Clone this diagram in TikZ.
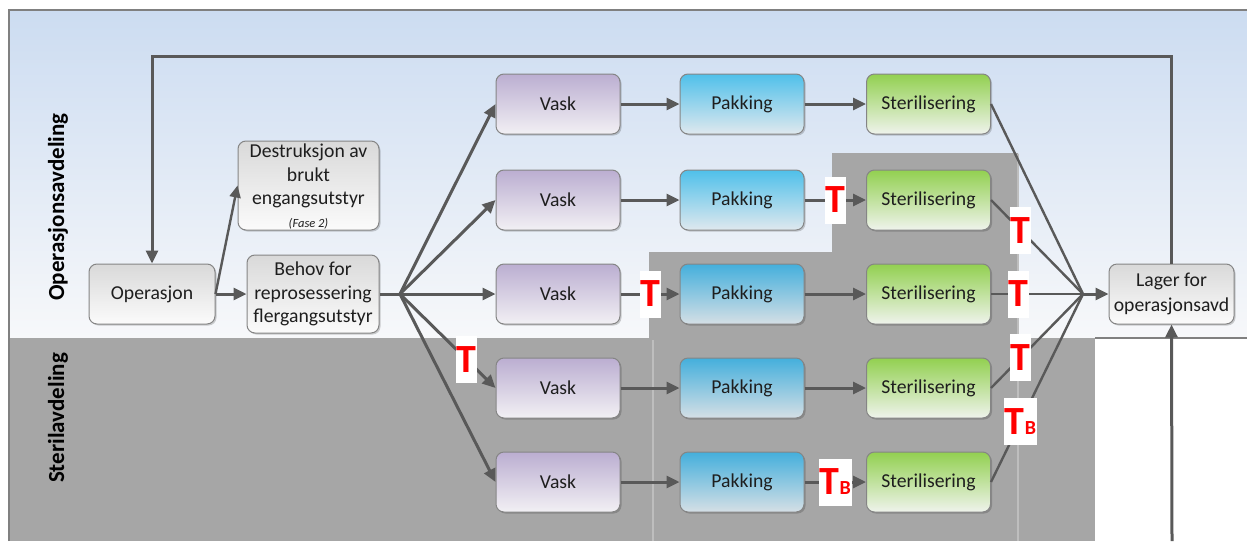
\documentclass[tikz,border=0pt]{standalone}
\usepackage{fontspec}
\setmainfont{Carlito}
\usetikzlibrary{arrows.meta,shadows,calc}

\definecolor{lineclr}{HTML}{595959}
\definecolor{laneTop}{HTML}{CCDCF1}
\definecolor{laneBot}{HTML}{F7F8FA}
\definecolor{laneGray}{HTML}{A6A6A6}
\definecolor{dividerclr}{HTML}{BEBEBE}
\definecolor{frameclr}{HTML}{808080}
\definecolor{boxborder}{HTML}{858585}
\definecolor{boxtext}{HTML}{1E1E1E}
\definecolor{vaskTop}{HTML}{BBAED1}
\definecolor{vaskBot}{HTML}{F2F0F4}
\definecolor{pakkTop}{HTML}{4FC0EA}
\definecolor{pakkBot}{HTML}{DFE8EE}
\definecolor{pakkTopD}{HTML}{44AFDC}
\definecolor{pakkBotD}{HTML}{D5DFE5}
\definecolor{sterTop}{HTML}{92D050}
\definecolor{sterBot}{HTML}{EFF3EC}
\definecolor{grayTop}{HTML}{D9D9D9}
\definecolor{grayBot}{HTML}{FBFBFB}
\definecolor{tred}{HTML}{FF0000}

\tikzset{
  procbox/.style={draw=boxborder, line width=1pt, rounded corners=8pt,
    text=boxtext, font=\fontsize{19.7}{23.5}\selectfont, inner sep=2pt,
    align=center,
    drop shadow={shadow xshift=1.5pt, shadow yshift=-1.5pt, fill=black, opacity=0.18}},
  stepbox/.style={procbox, minimum width=124pt, minimum height=60pt},
  vaskbox/.style={stepbox, top color=vaskTop, bottom color=vaskBot},
  pakkbox/.style={stepbox, top color=pakkTop, bottom color=pakkBot},
  pakkdark/.style={stepbox, top color=pakkTopD, bottom color=pakkBotD},
  sterbox/.style={stepbox, top color=sterTop, bottom color=sterBot},
  graybox/.style={procbox, top color=grayTop, bottom color=grayBot},
  flow/.style={draw=lineclr, line width=3pt, -{Triangle[length=13pt,width=12pt]}},
  flowplain/.style={draw=lineclr, line width=3pt},
  thinflow/.style={draw=lineclr, line width=2.4pt, -{Triangle[length=12pt,width=11pt]}},
  thinplain/.style={draw=lineclr, line width=2.4pt},
  tlabel/.style={fill=white, text=tred, inner sep=0pt, minimum width=21pt,
    minimum height=47pt, font=\fontsize{40}{40}\bfseries\selectfont},
  tblabel/.style={tlabel, minimum width=33pt},
  lanelabel/.style={rotate=90, font=\fontsize{23}{23}\bfseries\selectfont, text=black},
  frameline/.style={draw=frameclr, line width=1.5pt},
  divider/.style={draw=dividerclr, line width=1.6pt}
}

\begin{document}
\begin{tikzpicture}[x=1pt, y=-1pt]
\useasboundingbox (0,0) rectangle (1247,541);
\fill[white] (0,0) rectangle (1247,541);

% swimlanes
\shade[top color=laneTop, bottom color=laneBot] (9,10) rectangle (1247,338);
\fill[laneGray] (9,338) rectangle (1095,541);
\fill[laneGray] (649,338) -- (649,252) -- (832,252) -- (832,153)
  -- (1018,153) -- (1018,338) -- cycle;
\draw[divider] (653,340) -- (653,541);
\draw[divider] (1018,154) -- (1018,541);
\draw[frameline] (9,541) -- (9,10) -- (1247,10);
\draw[frameline] (1095,338) -- (1247,338);

\node[lanelabel] (laneop) at (58,207) {Operasjonsavdeling};
\node[lanelabel] (lanest) at (58,418) {Sterilavdeling};

% process nodes
\node[graybox, minimum width=126pt, minimum height=60pt] (op) at (152,294) {Operasjon};
\node[graybox, minimum width=141pt, minimum height=89pt] (destr) at (308.5,185.5) {};
\node[font=\fontsize{19.7}{23.5}\selectfont, text=boxtext, align=center, inner sep=0pt]
  (destrtext) at (308.5,176) {Destruksjon av\\brukt\\engangsutstyr};
\node[font=\fontsize{12.5}{14}\selectfont\itshape, text=boxtext, inner sep=0pt]
  (fase) at (308.5,224) {(Fase 2)};
\node[graybox, minimum width=132pt, minimum height=78pt] (behov) at (313,294)
  {Behov for\\reprosessering\\flergangsutstyr};
\node[graybox, minimum width=125pt, minimum height=60pt, font=\fontsize{19.7}{24.5}\selectfont] (lager) at (1171.5,294)
  {Lager for\\operasjonsavd};

\foreach \r/\yy in {1/104, 2/200, 3/294, 4/388, 5/482}{
  \node[vaskbox] (v\r) at (558,\yy) {Vask};
  \node[sterbox] (s\r) at (928.5,\yy) {Sterilisering};
}
\node[pakkbox]  (p1) at (742,104) {Pakking};
\node[pakkbox]  (p2) at (742,200) {Pakking};
\node[pakkdark] (p3) at (742,294) {Pakking};
\node[pakkdark] (p4) at (742,388) {Pakking};
\node[pakkdark] (p5) at (742,482) {Pakking};

\coordinate (fan) at (400,294);
\coordinate (conv) at (1083,294);
\coordinate (supply) at (1172,541);

% connectors
\draw[flow] (lager.north) -- ++(0,-207) -| (op.north);
\draw[flow] (supply) -- (lager.south);
\draw[flow] (op.east) -- (behov.west);
\draw[thinflow] (op.east) -- (destr.west);
\draw[flowplain] (behov.east) -- (fan);
\foreach \r in {1,...,5}{
  \draw[flow] (fan) -- (v\r.west);
  \draw[flow] (v\r.east) -- (p\r.west);
  \draw[flow] (p\r.east) -- (s\r.west);
  \draw[thinplain] (s\r.east) -- (conv);
}
\draw[flow] (conv) -- (lager.west);

% transport markers
\node[tlabel] (t4) at ($(fan)!0.70!(v4.west)$) {T};
\node[tlabel] (t3) at ($(v3.east)!0.5!(p3.west)$) {T};
\node[tlabel] (t2) at ($(p2.east)!0.5!(s2.west)$) {T};
\node[tblabel] (tb5) at ($(p5.east)!0.5!(s5.west)$) {T\fontsize{20}{20}\selectfont B};
\node[tlabel] (u2) at ($(s2.east)!0.32!(conv)$) {T};
\node[tlabel] (u3) at ($(s3.east)!0.30!(conv)$) {T};
\node[tlabel] (u4) at ($(s4.east)!0.32!(conv)$) {T};
\node[tblabel] (ub5) at ($(s5.east)!0.32!(conv)$) {T\fontsize{20}{20}\selectfont B};
\end{tikzpicture}
\end{document}
